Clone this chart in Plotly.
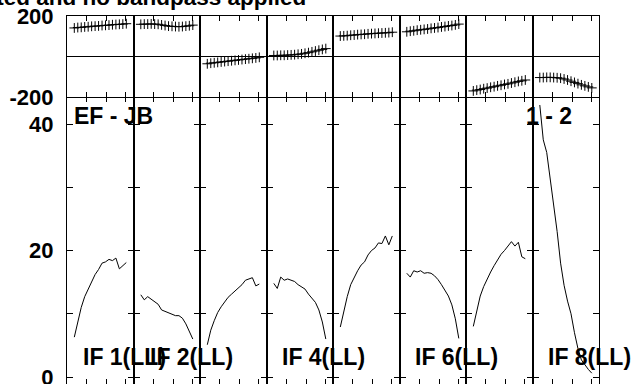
import plotly.graph_objects as go
from plotly.subplots import make_subplots

# ---------------- data ----------------
channels = list(range(1, 17))
if_names = ["IF 1(LL)", "IF 2(LL)", "IF 3(LL)", "IF 4(LL)",
            "IF 5(LL)", "IF 6(LL)", "IF 7(LL)", "IF 8(LL)"]
shown_if_labels = [True, True, False, True, False, True, False, True]
baseline_label = "EF - JB"
corr_label = "1 - 2"
title_text = "Calibrated and no bandpass applied"

phase_if1 = [141, 143, 144, 146, 147, 149, 150, 151, 153, 154, 155, 157, 158, 159, 160, 162]
phase_if2 = [159, 160, 160, 161, 160, 159, 156, 153, 150, 149, 148, 147, 148, 150, 152, 155]
phase_if3 = [-36, -33, -31, -29, -27, -25, -23, -21, -19, -17, -15, -13, -11, -9, -7, -4]
phase_if4 = [5, 5, 6, 6, 7, 8, 9, 11, 13, 16, 19, 23, 27, 31, 35, 39]
phase_if5 = [101, 102, 103, 105, 106, 108, 109, 110, 112, 113, 114, 115, 116, 117, 118, 120]
phase_if6 = [122, 125, 127, 130, 132, 134, 136, 139, 141, 143, 146, 148, 151, 153, 156, 160]
phase_if7 = [-170, -166, -163, -159, -156, -152, -149, -145, -142, -138, -135, -131, -127, -123, -120, -116]
phase_if8 = [-104, -104, -103, -103, -104, -105, -107, -111, -116, -122, -128, -134, -140, -145, -150, -155]

amp_if1 = [6.3, 8.7, 11.0, 12.7, 13.9, 15.0, 16.2, 17.0, 18.0, 18.2, 18.6, 18.4, 18.8, 17.1, 17.6, 18.1]
amp_if2 = [13.0, 12.2, 12.7, 12.3, 11.9, 11.5, 10.6, 10.4, 10.1, 9.9, 9.7, 9.7, 9.3, 8.4, 7.3, 6.0]
amp_if3 = [5.1, 7.4, 8.9, 10.2, 11.1, 11.8, 12.6, 13.1, 13.6, 14.1, 14.6, 15.3, 15.5, 15.7, 14.4, 14.7]
amp_if4 = [14.8, 14.0, 15.8, 15.3, 15.5, 15.3, 15.1, 14.6, 14.3, 13.9, 13.1, 12.5, 11.8, 10.6, 8.7, 6.0]
amp_if5 = [7.9, 10.5, 12.7, 14.6, 15.8, 16.8, 17.7, 18.2, 19.3, 20.0, 20.4, 21.2, 21.1, 22.3, 20.9, 22.3]
amp_if6 = [16.4, 15.8, 16.8, 16.6, 16.8, 16.4, 16.5, 16.4, 16.0, 15.4, 14.6, 13.8, 12.8, 11.4, 9.2, 6.1]
amp_if7 = [8.0, 10.6, 12.8, 14.3, 15.6, 16.6, 17.6, 18.6, 19.4, 20.0, 20.8, 21.4, 20.7, 21.3, 19.0, 18.7]
amp_if8 = [43.0, 37.5, 35.5, 31.5, 27.5, 23.0, 18.0, 14.5, 12.0, 10.0, 7.0, 4.5, 2.7, 1.9, 1.2, 0.6]

phases = [phase_if1, phase_if2, phase_if3, phase_if4, phase_if5, phase_if6, phase_if7, phase_if8]
amps = [amp_if1, amp_if2, amp_if3, amp_if4, amp_if5, amp_if6, amp_if7, amp_if8]

phase_tickvals = [-200, 200]
phase_ticktext = ["-200", "200"]
amp_tickvals = [0, 10, 20, 30, 40]
amp_ticktext = ["0", "", "20", "", "40"]
chan_ticks = [4.66, 10.29, 15.91]

# ---------------- figure ----------------
W, H = 634, 384
ML, MR, MT, MB = 67, 35, 16, 0
PW, PH = W - ML - MR, H - MT - MB
FONT = "Liberation Sans, Arial, sans-serif"


def px_x(px):
    return (px - ML) / PW


def px_y(py):
    return (H - MB - py) / PH


fig = make_subplots(rows=2, cols=8, horizontal_spacing=0, vertical_spacing=0,
                    row_heights=[81, 287])

for i in range(8):
    c = i + 1
    fig.add_trace(go.Scatter(x=channels, y=phases[i], mode="markers",
                             marker=dict(symbol="cross-thin", size=7,
                                         line=dict(color="black", width=1)),
                             showlegend=False, hoverinfo="skip"),
                  row=1, col=c)
    fig.add_trace(go.Scatter(x=channels, y=amps[i], mode="lines",
                             line=dict(color="black", width=1),
                             showlegend=False, hoverinfo="skip"),
                  row=2, col=c)

xr = [-1.105, 18.075]
tfont = dict(family=FONT, size=22, color="black", weight="bold")
for i in range(8):
    c = i + 1
    fig.update_xaxes(row=1, col=c, range=xr, showgrid=False, zeroline=False,
                     showline=True, linecolor="black", linewidth=1, automargin=False,
                     mirror="ticks", ticks="inside", ticklen=5, tickwidth=1,
                     tickcolor="black", tickvals=chan_ticks, showticklabels=False)
    fig.update_xaxes(row=2, col=c, range=xr, showgrid=False, zeroline=False,
                     showline=False, mirror="ticks", ticks="inside", ticklen=5,
                     tickwidth=1, tickcolor="black", tickvals=chan_ticks,
                     showticklabels=False, automargin=False)
    fig.update_yaxes(row=1, col=c, range=[-200, 200], showgrid=False,
                     zeroline=True, zerolinecolor="black", zerolinewidth=1,
                     showline=True, linecolor="black", linewidth=1, mirror=True,
                     ticks="", tickvals=phase_tickvals, ticktext=phase_ticktext,
                     showticklabels=(c == 1), tickfont=tfont,
                     ticklabelstandoff=8, automargin=False,
                     ticklabeloverflow="allow")
    fig.update_yaxes(row=2, col=c, range=[-1.107, 44.27], showgrid=False,
                     zeroline=False, showline=True, linecolor="black", linewidth=1,
                     mirror="ticks", ticks="inside", ticklen=6, tickwidth=1,
                     tickcolor="black", tickvals=amp_tickvals, ticktext=amp_ticktext,
                     showticklabels=(c == 1), tickfont=tfont,
                     ticklabelstandoff=8, automargin=False,
                     ticklabeloverflow="allow")

lab_font = dict(family=FONT, size=23, color="black", weight="bold")
col_left = [ML + i * PW / 8 for i in range(8)]
annotations = []
for i in range(8):
    if shown_if_labels[i]:
        left = col_left[i] + (13.5 if i != 1 else 14.5)
        annotations.append(dict(text=if_names[i], xref="paper", yref="paper",
                                x=px_x(left), y=px_y(356.5), xanchor="left", yanchor="middle",
                                showarrow=False, font=lab_font))
annotations.append(dict(text=baseline_label, xref="paper", yref="paper",
                        x=px_x(71.7), y=px_y(115.7),
                        xanchor="left", yanchor="middle", showarrow=False, font=lab_font))
annotations.append(dict(text=corr_label, xref="paper", yref="paper",
                        x=px_x(523.7), y=px_y(115.7),
                        xanchor="left", yanchor="middle", showarrow=False, font=lab_font))
annotations.append(dict(text=title_text, xref="paper", yref="paper",
                        x=px_x(308), y=px_y(-2),
                        xanchor="right", yanchor="middle", showarrow=False,
                        font=dict(family=FONT, size=22.5, color="black", weight="bold")))

fig.update_layout(width=W, height=H, margin=dict(l=ML, r=MR, t=MT, b=MB),
                  paper_bgcolor="white", plot_bgcolor="white",
                  annotations=annotations, showlegend=False)

fig.write_html("out.html", config={"displayModeBar": False, "staticPlot": True},
               post_script="document.body.style.margin='0';document.body.style.overflow='hidden';")
